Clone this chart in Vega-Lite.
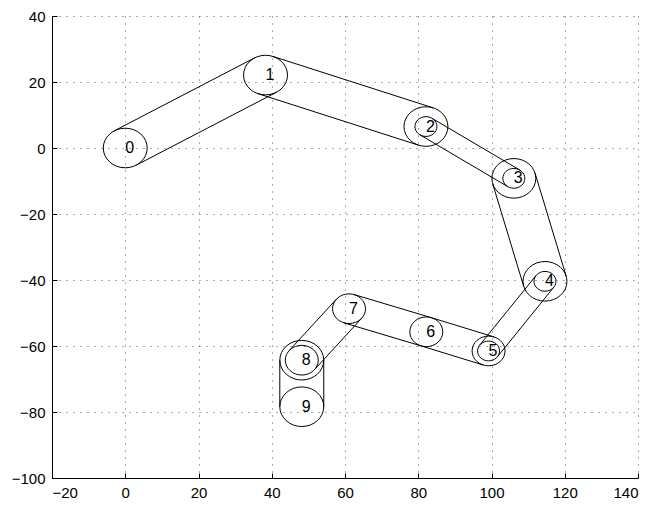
{
  "$schema": "https://vega.github.io/schema/vega-lite/v6.json",
  "width": 586,
  "height": 462,
  "autosize": {"type": "none"},
  "padding": {"left": 52, "top": 16, "right": 17, "bottom": 28},
  "background": "white",
  "config": {
    "view": {"stroke": null},
    "axis": {
      "grid": true,
      "gridDash": [1, 6],
      "gridColor": "#000000",
      "gridOpacity": 0.65,
      "gridWidth": 1,
      "domainColor": "#000000",
      "domainWidth": 1,
      "tickColor": "#000000",
      "tickSize": -5,
      "labelFont": "Liberation Sans",
      "labelFontSize": 15,
      "labelColor": "#000000",
      "title": null
    }
  },
  "datasets": {
    "circles": [
      {"id": "0", "x": 0, "y": 0, "r": 6, "label": "0"},
      {"id": "1", "x": 38.3, "y": 22.1, "r": 6, "label": "1"},
      {"id": "2", "x": 82.1, "y": 6.5, "r": 6, "label": "2"},
      {"id": "2", "x": 82.1, "y": 6.5, "r": 3, "label": ""},
      {"id": "3", "x": 106.1, "y": -9.2, "r": 6, "label": "3"},
      {"id": "3", "x": 106.1, "y": -9.2, "r": 3, "label": ""},
      {"id": "4", "x": 114.6, "y": -40.4, "r": 6, "label": "4"},
      {"id": "4", "x": 114.6, "y": -40.4, "r": 3, "label": ""},
      {"id": "5", "x": 99.2, "y": -61.5, "r": 4.5, "label": "5"},
      {"id": "5", "x": 99.2, "y": -61.5, "r": 3, "label": ""},
      {"id": "6", "x": 82.2, "y": -55.7, "r": 4.5, "label": "6"},
      {"id": "7", "x": 61.1, "y": -48.7, "r": 4.5, "label": "7"},
      {"id": "8", "x": 48.2, "y": -64.3, "r": 6, "label": "8"},
      {"id": "8", "x": 48.2, "y": -64.3, "r": 4.5, "label": ""},
      {"id": "9", "x": 48.2, "y": -78.4, "r": 6, "label": "9"}
    ],
    "segs": [
      {"x": -3.0, "y": 5.2, "x2": 35.3, "y2": 27.3},
      {"x": 3.0, "y": -5.2, "x2": 41.3, "y2": 16.9},
      {"x": 40.31, "y": 27.75, "x2": 84.11, "y2": 12.15},
      {"x": 36.29, "y": 16.45, "x2": 80.09, "y2": 0.85},
      {"x": 83.74, "y": 9.01, "x2": 107.74, "y2": -6.69},
      {"x": 80.46, "y": 3.99, "x2": 104.46, "y2": -11.71},
      {"x": 111.89, "y": -7.62, "x2": 120.39, "y2": -38.82},
      {"x": 100.31, "y": -10.78, "x2": 108.81, "y2": -41.98},
      {"x": 117.02, "y": -42.17, "x2": 101.62, "y2": -63.27},
      {"x": 112.18, "y": -38.63, "x2": 96.78, "y2": -59.73},
      {"x": 97.75, "y": -65.76, "x2": 80.75, "y2": -59.96},
      {"x": 100.65, "y": -57.24, "x2": 83.65, "y2": -51.44},
      {"x": 80.78, "y": -59.97, "x2": 59.68, "y2": -52.97},
      {"x": 83.62, "y": -51.43, "x2": 62.52, "y2": -44.43},
      {"x": 64.57, "y": -51.57, "x2": 51.67, "y2": -67.17},
      {"x": 57.63, "y": -45.83, "x2": 44.73, "y2": -61.43},
      {"x": 54.2, "y": -64.3, "x2": 54.2, "y2": -78.4},
      {"x": 42.2, "y": -64.3, "x2": 42.2, "y2": -78.4}
    ]
  },
  "layer": [
    {
      "data": {"name": "segs"},
      "mark": {"type": "rule", "color": "#000000", "strokeWidth": 1},
      "encoding": {
        "x": {"field": "x", "type": "quantitative", "scale": {"domain": [-20, 140], "nice": false, "zero": false},
          "axis": {"values": [-20, 0, 20, 40, 60, 80, 100, 120, 140], "format": "d", "labelPadding": 12}},
        "y": {"field": "y", "type": "quantitative", "scale": {"domain": [-100, 40], "nice": false, "zero": false},
          "axis": {"values": [-100, -80, -60, -40, -20, 0, 20, 40], "format": "d", "labelPadding": 12}},
        "x2": {"field": "x2"},
        "y2": {"field": "y2"}
      }
    },
    {
      "data": {"name": "circles"},
      "mark": {
        "type": "point",
        "filled": false,
        "color": "#000000",
        "opacity": 1,
        "strokeWidth": 1,
        "shape": "M 1 0 C 1 0.4976 0.5523 0.901 0 0.901 C -0.5523 0.901 -1 0.4976 -1 0 C -1 -0.4976 -0.5523 -0.901 0 -0.901 C 0.5523 -0.901 1 -0.4976 1 0 Z"
      },
      "encoding": {
        "x": {"field": "x", "type": "quantitative"},
        "y": {"field": "y", "type": "quantitative"},
        "size": {"field": "r", "type": "quantitative", "legend": null,
          "scale": {"type": "pow", "exponent": 2, "domain": [0, 6], "range": [0, 1931]}}
      }
    },
    {
      "data": {"name": "circles"},
      "mark": {"type": "text", "align": "left", "baseline": "middle", "font": "Liberation Sans", "fontSize": 16, "color": "#000000"},
      "encoding": {
        "x": {"field": "x", "type": "quantitative"},
        "y": {"field": "y", "type": "quantitative"},
        "text": {"field": "label"}
      }
    }
  ]
}
